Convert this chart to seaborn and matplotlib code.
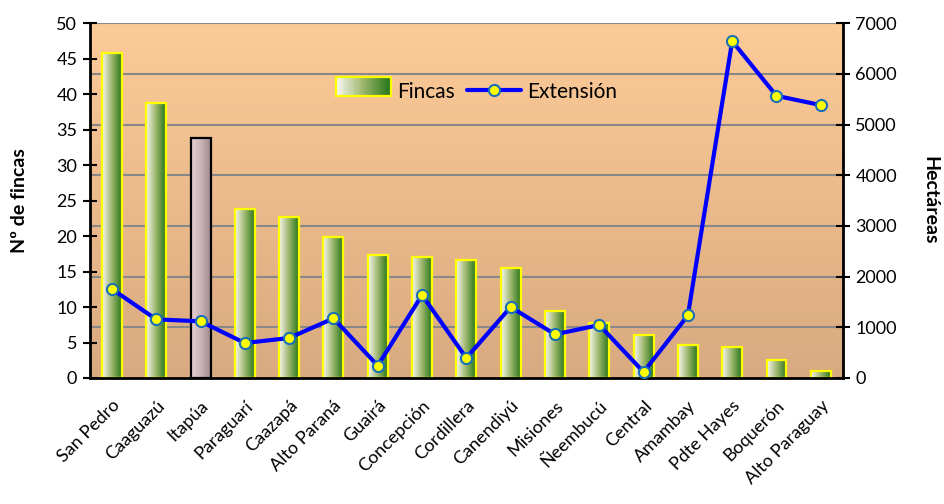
import numpy as np
import pandas as pd
import matplotlib
matplotlib.use("Agg")
import matplotlib.pyplot as plt
import seaborn as sns
from matplotlib.colors import LinearSegmentedColormap
from matplotlib.patches import Rectangle
from matplotlib.lines import Line2D
from matplotlib.legend_handler import HandlerBase

# data
departamentos = ["San Pedro", "Caaguazú", "Itapúa", "Paraguarí", "Caazapá", "Alto Paraná",
                 "Guairá", "Concepción", "Cordillera", "Canendiyú", "Misiones", "Ñeembucú",
                 "Central", "Amambay", "Pdte Hayes", "Boquerón", "Alto Paraguay"]
fincas = [45.8, 38.8, 33.8, 23.8, 22.7, 19.8, 17.4, 17.1, 16.6, 15.5, 9.4, 7.8, 6.0, 4.7, 4.4, 2.6, 1.0]
extension = [1755, 1157, 1118, 690, 789, 1177, 243, 1637, 394, 1400, 861, 1045, 118, 1236, 6645, 5567, 5384]
highlight = "Itapúa"

df = pd.DataFrame({"dep": departamentos, "fincas": fincas, "ext": extension})
df["pos"] = np.arange(len(df))

sns.set_theme(style="white")
plt.rcParams["font.family"] = ["Lato", "DejaVu Sans"]
for key in ["text.color", "axes.labelcolor", "xtick.color", "ytick.color"]:
    plt.rcParams[key] = "black"

green_cmap = LinearSegmentedColormap.from_list("g", ["#f6f6ee", "#9cb66c", "#27761a"])
pink_cmap = LinearSegmentedColormap.from_list("p", ["#e6d0d2", "#cdb4b8", "#9e8a8e"])
bg_cmap = LinearSegmentedColormap.from_list("bg", ["#d9aa80", "#fdcb98"])
grad = np.linspace(0, 1, 64).reshape(1, -1)

fig = plt.figure(figsize=(9.45, 5.04), dpi=100)
ax = fig.add_axes([0.095, 0.25, 0.797, 0.704])

# background gradient
ax.imshow(np.linspace(0, 1, 128).reshape(-1, 1), cmap=bg_cmap, origin="lower", aspect="auto",
          extent=[0, 1, 0, 1], transform=ax.transAxes, zorder=-10)

sns.barplot(data=df, x="dep", y="fincas", ax=ax, width=0.45, color="#7fa050", zorder=1)
for patch, dep in zip(ax.patches, df["dep"]):
    x0, y0 = patch.get_x(), patch.get_y()
    w, h = patch.get_width(), patch.get_height()
    cmap = pink_cmap if dep == highlight else green_cmap
    im = ax.imshow(grad, cmap=cmap, aspect="auto", extent=[x0, x0 + w, y0, y0 + h], zorder=0.9)
    im.set_clip_path(patch)
    patch.set_facecolor("none")
    patch.set_edgecolor("black" if dep == highlight else "#ffff00")
    patch.set_linewidth(1.6)

ax.set_xlim(-0.5, len(df) - 0.5)
ax.set_ylim(0, 50)
for k in range(1, 8):
    ax.axhline(k * 50 / 7, color="#888888", lw=1.5, zorder=0.5)

ax.set_yticks(np.arange(0, 51, 5))
ax.set_xticks(np.arange(len(df) + 1) - 0.5)
ax.set_xticklabels([])
ax.set_xticks(df["pos"], minor=True)
ax.set_xticklabels(df["dep"], minor=True, rotation=45, ha="right", rotation_mode="anchor", fontsize=13)
ax.tick_params(axis="x", which="minor", length=0, pad=14)
ax.tick_params(axis="x", which="major", direction="out", length=6, width=1.2, color="black")
ax.tick_params(axis="y", direction="inout", length=10, width=1.5, color="black", labelsize=13, pad=4)
ax.set_xlabel("")
ax.set_ylabel("Nº de fincas", fontsize=14, fontweight="bold", labelpad=20)
for s in ["top", "right"]:
    ax.spines[s].set_visible(False)
for s in ["left", "bottom"]:
    ax.spines[s].set_color("black")
    ax.spines[s].set_linewidth(2)

ax2 = ax.twinx()
sns.lineplot(data=df, x="pos", y="ext", ax=ax2, color="#0000ff", lw=3, marker="o", markersize=8,
             markerfacecolor="#ffff00", markeredgecolor="#1a6fb8", markeredgewidth=1.5, zorder=5)
ax2.set_ylim(0, 7000)
ax2.set_xlim(-0.5, len(df) - 0.5)
ax2.set_yticks(np.arange(0, 7001, 1000))
ax2.tick_params(axis="y", direction="inout", length=10, width=1.5, color="black", labelsize=13, pad=4)
ax2.set_ylabel("Hectáreas", fontsize=14, fontweight="bold", rotation=270, labelpad=30)
ax2.set_xlabel("")
ax2.grid(False)
for s in ["top", "left", "bottom"]:
    ax2.spines[s].set_visible(False)
ax2.spines["right"].set_color("black")
ax2.spines["right"].set_linewidth(2)


class GradientHandler(HandlerBase):
    def create_artists(self, legend, orig, xd, yd, width, height, fontsize, trans):
        arts = []
        n = 30
        for i in range(n):
            arts.append(Rectangle((xd + width * i / n, yd), width / n + 0.3, height,
                                  facecolor=green_cmap(i / (n - 1)), edgecolor="none", transform=trans))
        arts.append(Rectangle((xd, yd), width, height, facecolor="none", edgecolor="#ffff00",
                              lw=1.6, transform=trans))
        return arts


h_bar = Rectangle((0, 0), 1, 1)
h_line = Line2D([], [], color="#0000ff", lw=3, marker="o", markersize=8,
                markerfacecolor="#ffff00", markeredgecolor="#1a6fb8", markeredgewidth=1.5)
ax2.legend([h_bar, h_line], ["Fincas", "Extensión"], handler_map={Rectangle: GradientHandler()},
           loc="center", bbox_to_anchor=(0.514, 0.806), ncol=2, frameon=False, fontsize=15,
           handlelength=2.6, handleheight=1.0, columnspacing=0.6, handletextpad=0.3)

fig.savefig("out.png", dpi=100)
